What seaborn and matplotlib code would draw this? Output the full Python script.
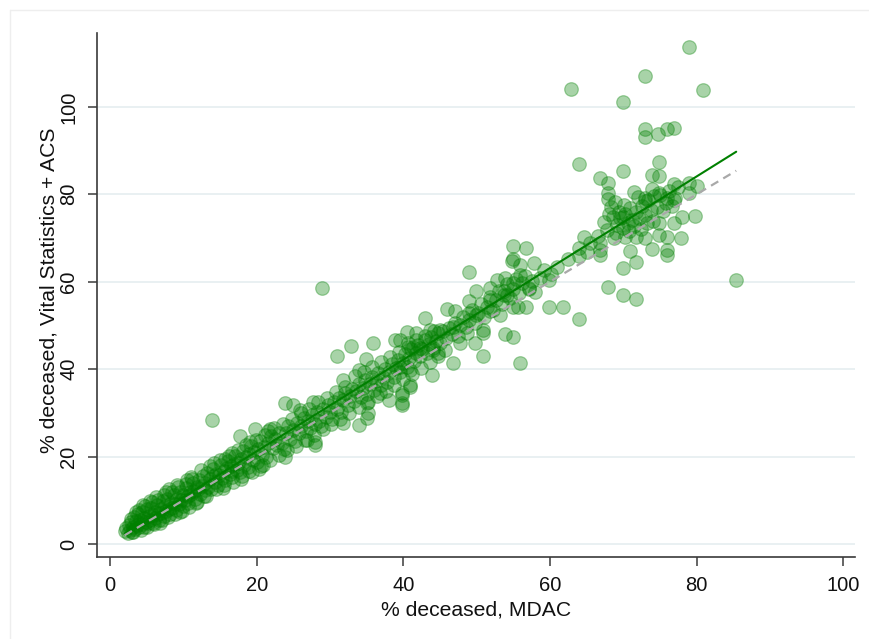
import numpy as np
import pandas as pd
import matplotlib
matplotlib.use("Agg")
import matplotlib.pyplot as plt
from matplotlib.lines import Line2D
import seaborn as sns

# % deceased by source: MDAC (x) vs Vital Statistics + ACS (y)
# dense band, low range
low_x = [2.0, 2.2, 2.4, 2.6, 2.7, 2.9, 3.0, 3.1, 3.3, 3.4, 3.5, 3.7, 3.8, 4.0, 4.1, 4.3,
         4.4, 4.6, 4.7, 4.9, 5.0, 5.2, 5.3, 5.5, 5.6, 5.8, 5.9, 6.1, 6.2, 6.4, 6.5, 6.7,
         6.9, 7.0, 7.2, 7.3, 7.5, 7.7, 7.8, 8.0, 8.2, 8.3, 8.5, 8.7, 8.8, 9.0, 9.2, 9.4,
         9.5, 9.7, 9.9, 10.0, 10.2, 10.4, 10.6, 10.7, 10.9, 11.1, 11.3, 11.5, 11.6, 11.8]
low_y = [2.9, 3.6, 2.5, 4.3, 3.1, 5.0, 2.8, 4.0, 6.1, 3.4, 5.2, 4.4, 6.8, 3.9, 5.6, 4.6,
         7.3, 3.9, 6.0, 5.1, 7.9, 4.8, 6.4, 5.6, 8.3, 6.6, 4.9, 7.4, 6.0, 9.0, 6.8, 5.5,
         8.1, 7.1, 9.8, 6.4, 8.6, 7.5, 10.3, 8.0, 6.9, 9.4, 8.3, 11.2, 9.1, 7.8, 10.4, 9.2,
         12.0, 10.0, 8.6, 11.3, 10.1, 12.8, 11.0, 9.3, 12.0, 11.4, 13.9, 12.1, 10.4, 13.0]
low_wide_x = [2.8, 3.2, 3.6, 4.2, 4.8, 5.1, 5.7, 6.0, 6.6, 7.1, 7.4, 7.9, 8.4, 8.9, 9.3, 9.8,
              10.3, 10.8, 11.2, 11.7, 3.9, 4.5, 5.4, 6.3, 6.8, 7.6, 8.1, 9.1, 9.6, 10.5, 11.0, 11.9]
low_wide_y = [5.8, 2.7, 7.4, 3.3, 8.6, 3.9, 9.5, 4.5, 10.1, 5.6, 11.3, 6.2, 12.0, 6.9, 13.1, 7.6,
              13.8, 8.4, 14.9, 9.4, 7.8, 8.9, 9.8, 10.7, 4.9, 11.8, 12.6, 13.5, 7.3, 14.6, 15.3, 9.6]

# dense band, 12-22
band1_x = [12.0, 12.2, 12.3, 12.5, 12.7, 12.9, 13.0, 13.2, 13.4, 13.6, 13.8, 14.0, 14.1, 14.3,
           14.5, 14.7, 14.9, 15.1, 15.3, 15.5, 15.7, 15.9, 16.1, 16.3, 16.5, 16.7, 16.9, 17.1,
           17.3, 17.5, 17.7, 17.9, 18.1, 18.3, 18.5, 18.8, 19.0, 19.2, 19.5, 19.7, 20.0, 20.2,
           20.5, 20.7, 21.0, 21.3, 21.6, 21.9]
band1_y = [12.6, 14.7, 11.5, 13.3, 15.6, 12.4, 14.0, 16.3, 13.1, 14.9, 12.6, 15.5, 17.2, 14.2,
           16.0, 13.6, 15.8, 18.1, 15.0, 16.7, 14.6, 17.4, 19.0, 16.0, 17.8, 15.4, 18.2, 20.1,
           17.0, 18.6, 16.5, 19.4, 21.3, 18.1, 19.9, 17.6, 20.6, 22.4, 19.3, 21.0, 18.7, 21.8,
           23.5, 20.3, 22.3, 19.8, 23.0, 24.6]
band1_wide_x = [12.4, 13.1, 13.7, 14.4, 15.0, 15.6, 16.2, 16.8, 17.4, 18.0, 18.6, 19.3, 19.9,
                20.6, 21.2, 21.8, 12.8, 14.2, 15.4, 16.6, 17.8, 19.1, 20.3, 21.5]
band1_wide_y = [17.0, 10.9, 17.9, 12.5, 19.3, 13.4, 20.2, 14.3, 21.4, 15.6, 22.6, 16.5, 23.7,
                17.9, 25.0, 19.2, 11.0, 18.6, 12.8, 20.9, 14.9, 23.3, 17.2, 25.8]

# dense band, 22-33
band2_x = [22.2, 22.5, 22.8, 23.1, 23.4, 23.7, 24.0, 24.3, 24.6, 24.9, 25.2, 25.5, 25.8, 26.1,
           26.4, 26.7, 27.0, 27.3, 27.6, 27.9, 28.2, 28.5, 28.8, 29.1, 29.4, 29.7, 30.0, 30.3,
           30.6, 30.9, 31.2, 31.5, 31.8, 32.1, 32.4, 32.7]
band2_y = [21.9, 24.0, 22.6, 25.4, 23.2, 21.7, 25.3, 26.9, 24.1, 26.0, 23.6, 27.7, 25.3, 27.0,
           28.8, 25.9, 28.1, 26.5, 29.6, 27.5, 30.3, 28.2, 26.9, 30.9, 29.0, 31.8, 30.2, 28.7,
           32.4, 31.0, 33.3, 30.1, 32.9, 34.6, 31.7, 33.8]
band2_wide_x = [22.4, 23.0, 23.6, 24.2, 24.8, 25.4, 26.0, 26.6, 27.2, 27.8, 28.4, 29.0, 29.6,
                30.2, 30.8, 31.4, 32.0, 32.6]
band2_wide_y = [26.6, 20.4, 27.5, 21.6, 28.6, 22.5, 29.9, 23.8, 31.0, 25.0, 32.5, 26.3, 33.4,
                27.4, 34.8, 28.6, 36.0, 30.0]

# band, 33-45
band3_x = [33.0, 33.3, 33.6, 33.9, 34.2, 34.5, 34.8, 35.1, 35.4, 35.7, 36.0, 36.3, 36.6, 36.9,
           37.2, 37.5, 37.8, 38.1, 38.4, 38.7, 39.0, 39.3, 39.6, 39.9, 40.2, 40.5, 40.8, 41.1,
           41.4, 41.7, 42.0, 42.3, 42.6, 42.9, 43.2, 43.5, 43.8, 44.1, 44.4, 44.7]
band3_y = [35.5, 32.8, 34.9, 36.7, 33.6, 35.8, 37.6, 34.4, 36.5, 38.3, 35.2, 37.4, 39.1, 36.3,
           38.2, 40.0, 37.0, 39.4, 41.2, 38.1, 40.3, 42.1, 39.4, 41.5, 43.4, 40.6, 42.6, 44.5,
           41.9, 43.8, 45.5, 42.9, 44.6, 46.6, 43.8, 45.7, 47.4, 44.9, 46.5, 48.2]
band3_wide_x = [33.4, 34.0, 34.6, 35.2, 35.8, 36.4, 37.0, 37.6, 38.2, 38.8, 39.4, 40.0, 40.6,
                41.2, 41.8, 42.4, 43.0, 43.6, 44.2, 44.8]
band3_wide_y = [38.4, 31.4, 39.4, 32.6, 40.5, 33.8, 41.6, 35.0, 42.8, 36.4, 44.0, 37.7, 45.1,
                39.0, 46.6, 40.2, 47.6, 41.6, 48.8, 43.0]

# band, 45-58
band4_x = [45.0, 45.4, 45.8, 46.2, 46.6, 47.0, 47.4, 47.8, 48.2, 48.6, 49.0, 49.4, 49.8, 50.2,
           50.6, 51.0, 51.4, 51.8, 52.2, 52.6, 53.0, 53.4, 53.8, 54.2, 54.6, 55.0, 55.4, 55.8,
           56.2, 56.6, 57.1, 57.6]
band4_y = [46.0, 48.7, 47.2, 49.4, 48.0, 50.5, 47.6, 50.1, 52.0, 49.6, 51.3, 53.5, 50.6, 52.9,
           55.0, 51.9, 54.3, 56.4, 53.5, 55.8, 57.8, 54.9, 57.0, 59.4, 56.2, 58.3, 60.6, 57.5,
           59.6, 61.3, 58.4, 60.2]

# cluster core at high values
core_x = [69.2, 69.6, 70.0, 70.3, 70.6, 70.9, 71.2, 69.4, 70.1, 70.8, 71.5, 69.0, 68.6, 71.8,
          72.2, 72.6, 73.0, 73.4, 73.8, 74.2, 74.6, 75.0, 75.4, 75.8, 76.2, 76.6, 77.0, 77.4,
          72.0, 71.4, 72.4, 73.2, 74.0, 68.3, 68.0, 67.4, 66.5, 65.5, 64.6, 64.0, 62.5, 61.0,
          60.2, 59.2, 58.6]
core_y = [73.0, 74.5, 72.2, 75.6, 73.4, 76.8, 74.1, 76.0, 77.5, 71.5, 72.8, 71.2, 74.8, 76.0,
          74.6, 77.3, 75.2, 78.6, 76.4, 79.5, 77.0, 79.9, 76.2, 78.0, 80.8, 77.4, 79.2, 81.6,
          79.3, 80.6, 72.0, 73.5, 74.0, 77.0, 75.6, 73.7, 70.5, 68.8, 70.2, 66.0, 65.3, 63.4,
          61.8, 62.6, 60.8]

# scattered points, high range
high_x = [78.9, 72.9, 62.9, 80.9, 69.9, 72.9, 72.9, 74.8, 75.9, 76.9, 63.9, 69.9, 74.9, 66.8,
          67.9, 73.9, 74.9, 67.9, 67.9, 76.9, 78.9, 80.0, 72.9, 72.9, 73.9, 74.9, 75.9, 76.9,
          78.9, 68.9, 79.8, 78.0, 76.9, 77.9, 75.9, 75.9, 75.9, 74.9, 74.9, 73.9, 73.0, 71.8,
          70.9, 71.8, 69.9, 66.8, 66.8, 66.8, 63.9, 65.0, 67.8, 70.0, 59.9, 67.9, 69.9, 71.8,
          85.4, 59.9, 61.8, 63.9, 68.7, 70.3]
high_y = [113.8, 107.1, 104.1, 103.9, 101.2, 95.0, 93.1, 93.8, 95.0, 95.2, 87.0, 85.3, 87.5, 83.7,
          82.5, 84.4, 84.3, 80.3, 78.9, 82.4, 82.5, 82.0, 79.1, 78.4, 81.2, 80.3, 79.1, 78.7,
          80.3, 78.3, 75.1, 74.9, 73.4, 70.0, 70.3, 67.3, 66.1, 73.5, 70.7, 67.5, 70.0, 70.3,
          67.0, 64.6, 63.1, 68.8, 67.3, 66.1, 67.7, 66.7, 71.9, 74.8, 60.4, 58.7, 57.0, 56.0,
          60.3, 54.3, 54.3, 51.4, 70.0, 70.3]

# scattered points, middle range
mid_x = [54.9, 56.8, 54.8, 55.0, 55.9, 57.8, 48.9, 52.8, 53.9, 55.0, 55.9, 51.8, 49.9, 53.7,
         54.1, 57.1, 58.0, 51.8, 48.9, 45.9, 47.1, 48.9, 49.9, 51.8, 53.2, 55.0, 55.7, 56.8,
         43.0, 40.5, 41.8, 43.7, 45.0, 46.8, 48.7, 50.9, 50.9, 49.8, 47.7, 53.9, 54.9, 50.9,
         55.9, 39.6, 40.7, 41.3, 42.3, 44.1, 44.7, 45.7, 46.8, 43.9, 40.9, 40.9, 39.6]
mid_y = [68.2, 67.7, 64.8, 65.2, 63.8, 64.2, 62.3, 60.4, 60.8, 59.7, 61.6, 58.5, 57.9, 57.8,
         57.0, 58.5, 57.7, 55.8, 55.5, 53.8, 53.2, 52.8, 52.4, 53.2, 52.4, 54.3, 54.3, 54.3,
         51.6, 48.6, 48.2, 49.0, 49.0, 49.7, 48.2, 49.0, 48.2, 45.9, 45.9, 48.1, 47.4, 43.0,
         41.5, 46.7, 46.0, 45.0, 44.9, 44.4, 43.7, 44.4, 41.4, 38.7, 39.8, 36.4, 40.6]

# scattered points, low range
lowsc_x = [28.9, 30.9, 32.9, 35.9, 38.9, 34.9, 31.8, 33.9, 39.8, 39.8, 40.9, 38.0, 36.8, 23.9,
           25.0, 25.9, 27.7, 19.8, 17.7, 21.8, 23.9, 28.0, 28.0, 26.8, 31.8, 33.9, 35.0, 35.0,
           35.2, 39.8, 39.8, 16.6, 15.7, 18.9, 20.9, 13.9]
lowsc_y = [58.5, 42.9, 45.2, 45.9, 46.7, 42.3, 37.5, 39.8, 34.5, 32.2, 36.0, 33.0, 34.5, 32.2,
           31.8, 30.7, 32.6, 26.2, 24.6, 26.2, 20.0, 23.4, 22.7, 23.8, 27.6, 27.2, 28.8, 32.2,
           29.9, 31.8, 34.1, 16.6, 19.5, 16.6, 18.1, 28.4]

x_ticks = [0, 20, 40, 60, 80, 100]
y_ticks = [0, 20, 40, 60, 80, 100]
x_title = "% deceased, MDAC"
y_title = "% deceased, Vital Statistics + ACS"

df = pd.DataFrame({
    "mdac": np.concatenate([low_x, low_wide_x, band1_x, band1_wide_x, band2_x, band2_wide_x,
                            band3_x, band3_wide_x, band4_x, core_x, high_x, mid_x, lowsc_x]),
    "vsacs": np.concatenate([low_y, low_wide_y, band1_y, band1_wide_y, band2_y, band2_wide_y,
                             band3_y, band3_wide_y, band4_y, core_y, high_y, mid_y, lowsc_y]),
})

sns.set_style("white")
plt.rcParams["font.family"] = ["Liberation Sans", "DejaVu Sans"]

green = "#008000"
axis_col = "#3a3a3a"

fig = plt.figure(figsize=(8.69, 6.39), dpi=100)
ax = fig.add_axes([97 / 869, 82 / 639, (855 - 97) / 869, (557 - 33) / 639])

sns.regplot(data=df, x="mdac", y="vsacs", ax=ax, ci=None, truncate=True, color=green,
            scatter_kws=dict(s=96, alpha=0.34, linewidths=0.9, edgecolors=green, zorder=2),
            line_kws=dict(color=green, lw=1.5, zorder=3))

# 45-degree reference line over the data range
lo, hi = df["mdac"].min(), df["mdac"].max()
sns.lineplot(x=[lo, hi], y=[lo, hi], ax=ax, color="#a9a9a9", lw=1.6,
             dashes=False, zorder=4).lines[-1].set_dashes((3.8, 2.6))

ax.set_xlim(-1.77, 101.6)
ax.set_ylim(-2.97, 116.9)
ax.set_xticks(x_ticks)
ax.set_yticks(y_ticks)

ax.yaxis.grid(True, color="#e7eff1", lw=1.3)
ax.xaxis.grid(False)
ax.set_axisbelow(True)

for side in ("top", "right"):
    ax.spines[side].set_visible(False)
for side in ("left", "bottom"):
    ax.spines[side].set_color(axis_col)
    ax.spines[side].set_linewidth(1.2)

ax.tick_params(axis="both", which="major", bottom=True, left=True, direction="out",
               length=6.5, width=1.1, color=axis_col, labelsize=14.5, labelcolor="#111111")
ax.tick_params(axis="x", pad=7)
ax.tick_params(axis="y", pad=7, labelrotation=90)
for lab in ax.get_yticklabels():
    lab.set_va("center")

ax.set_xlabel(x_title, fontsize=15.2, color="#111111", labelpad=4)
ax.set_ylabel(y_title, fontsize=15.2, color="#111111", va="center")
ax.yaxis.set_label_coords((49 - 97) / 758, 0.51)

# faint outer graph-region frame
fx0, fy0 = 10 / 869, 1 - 10 / 639
fig.add_artist(Line2D([fx0, 1.0], [fy0, fy0], transform=fig.transFigure,
                      color="#eeeeee", lw=1.0))
fig.add_artist(Line2D([fx0, fx0], [0.0, fy0], transform=fig.transFigure,
                      color="#eeeeee", lw=1.0))

fig.savefig("out.png", dpi=100)
